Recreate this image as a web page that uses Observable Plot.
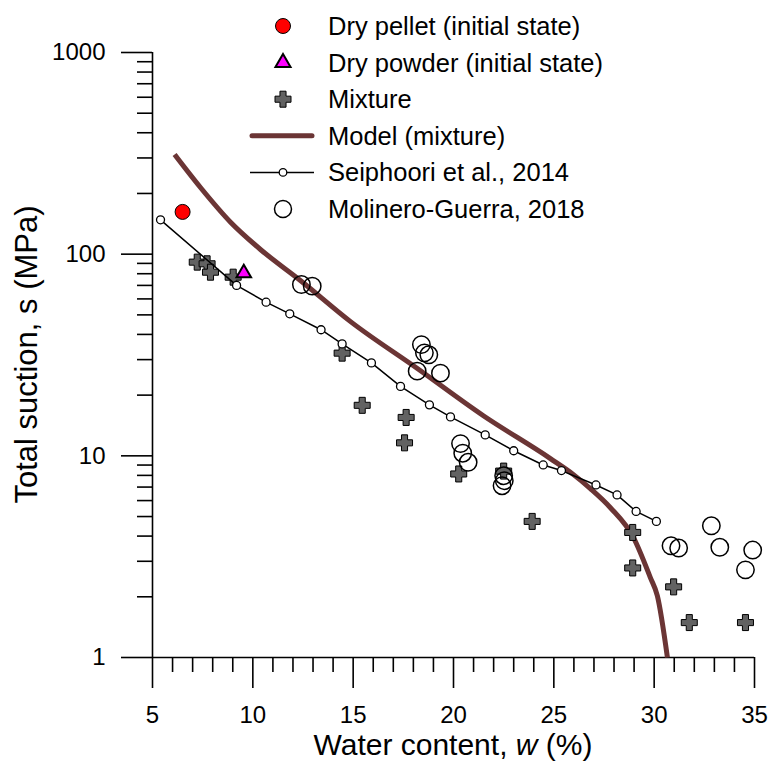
<!DOCTYPE html>
<html>
<head>
<meta charset="utf-8">
<script src="https://cdn.jsdelivr.net/npm/d3@7"></script>
<script src="https://cdn.jsdelivr.net/npm/@observablehq/plot@0.6"></script>
<style>
  body { margin: 0; background: #fff; }
  #chart svg { display: block; }
</style>
</head>
<body>
<div id="chart"></div>
<script>
// ---- Data ----
const pelletW = [6.5];
const pelletS = [162];

const powderW = [9.55];
const powderS = [80.5];

const mixtureW = [7.23, 7.72, 7.89, 9.02, 14.45, 15.45, 17.64, 17.56, 20.26, 22.5, 23.92, 28.93, 28.93, 30.97, 31.75, 34.55];
const mixtureS = [91.3, 89.6, 81.4, 76.9, 32.3, 17.8, 15.5, 11.6, 8.13, 8.4, 4.73, 4.17, 2.78, 2.24, 1.49, 1.49];

const modelW = [6.10, 7.39, 8.89, 10.38, 12.37, 14.87, 18.20, 21.49, 24.83, 25.98, 26.82, 27.82, 28.97, 29.81, 30.16, 30.66];
const modelS = [312, 214, 144, 105.5, 74.1, 46.3, 27.1, 15.8, 9.69, 8.07, 6.88, 5.53, 3.93, 2.49, 2.02, 1.0];

const seiphW = [5.4, 9.19, 10.66, 11.84, 13.4, 14.45, 15.91, 17.36, 18.8, 19.85, 21.58, 23.0, 24.47, 25.38, 27.1, 28.15, 29.1, 30.11];
const seiphS = [148, 70, 57.8, 50.6, 42.2, 35.9, 28.9, 22.1, 17.9, 15.6, 12.7, 10.6, 9.01, 8.45, 7.17, 6.4, 5.3, 4.73];

const molW = [12.42, 12.96, 18.4, 18.55, 18.77, 18.19, 19.35, 20.35, 20.46, 20.73, 22.5, 22.42, 22.53, 32.85, 30.84, 31.22, 33.27, 34.91, 34.55];
const molS = [70.7, 69.4, 35.6, 32.4, 31.7, 26.3, 25.7, 11.5, 10.3, 9.29, 7.97, 7.11, 7.53, 4.5, 3.58, 3.49, 3.52, 3.41, 2.72];

const xMajorTicks = [5, 10, 15, 20, 25, 30, 35];
const xMinorTicks = [6, 7, 8, 9, 11, 12, 13, 14, 16, 17, 18, 19, 21, 22, 23, 24, 26, 27, 28, 29, 31, 32, 33, 34];
const yMajorTicks = [1, 10, 100, 1000];
const yMinorTicks = [2, 3, 4, 5, 6, 7, 8, 9, 20, 30, 40, 50, 60, 70, 80, 90, 200, 300, 400, 500, 600, 700, 800, 900];

const legendLabels = [
  "Dry pellet (initial state)",
  "Dry powder (initial state)",
  "Mixture",
  "Model (mixture)",
  "Seiphoori et al., 2014",
  "Molinero-Guerra, 2018"
];
const legendKinds = ["pellet", "powder", "mixture", "model", "seiph", "mol"];

const xTitle = ["Water content, ", "w", " (%)"];
const yTitle = "Total suction, s (MPa)";

// ---- Tables ----
const zip = (ws, ss) => ws.map((w, i) => ({w, s: ss[i]}));
const pellet = zip(pelletW, pelletS);
const powder = zip(powderW, powderS);
const mixture = zip(mixtureW, mixtureS);
const model = zip(modelW, modelS);
const seiph = zip(seiphW, seiphS);
const mol = zip(molW, molS);

// ---- Styles ----
const FONT = "'Liberation Sans', Arial, Helvetica, sans-serif";
const MODEL_COLOR = "#6b3535";
const MIX_FILL = "#626262";

const plusSymbol = {
  draw(ctx, size) {
    const a = Math.sqrt(size / Math.PI);
    const b = a * 0.38;
    ctx.moveTo(-b, -a); ctx.lineTo(b, -a); ctx.lineTo(b, -b); ctx.lineTo(a, -b);
    ctx.lineTo(a, b); ctx.lineTo(b, b); ctx.lineTo(b, a); ctx.lineTo(-b, a);
    ctx.lineTo(-b, b); ctx.lineTo(-a, b); ctx.lineTo(-a, -b); ctx.lineTo(-b, -b);
    ctx.closePath();
  }
};

const chart = Plot.plot({
  width: 769,
  height: 762,
  marginLeft: 152,
  marginRight: 15,
  marginTop: 52,
  marginBottom: 105,
  style: {fontFamily: FONT, fontSize: "24px", background: "white", color: "black", overflow: "visible"},
  x: {domain: [5, 35], label: null},
  y: {type: "log", domain: [1, 1000], label: null},
  marks: [
    Plot.axisY({ticks: yMajorTicks, tickSize: 31, tickPadding: 16, tickFormat: d => String(d), label: null, strokeWidth: 1.6}),
    Plot.axisY({ticks: yMinorTicks, tickSize: 15, tickFormat: () => "", label: null, strokeWidth: 1.6}),
    Plot.axisX({ticks: xMajorTicks, tickSize: 31, tickPadding: 17, tickFormat: d => String(d), label: null, strokeWidth: 1.6}),
    Plot.axisX({ticks: xMinorTicks, tickSize: 15, tickFormat: () => "", label: null, strokeWidth: 1.6}),
    Plot.ruleX([5], {stroke: "black", strokeWidth: 1.6}),
    Plot.ruleY([1], {stroke: "black", strokeWidth: 1.6}),
    Plot.line(model, {x: "w", y: "s", stroke: MODEL_COLOR, strokeWidth: 5, curve: "monotone-x", strokeLinecap: "butt"}),
    Plot.dot(mixture, {x: "w", y: "s", symbol: plusSymbol, r: 8, fill: MIX_FILL, stroke: "black", strokeWidth: 1}),
    Plot.line(seiph, {x: "w", y: "s", stroke: "black", strokeWidth: 1.5}),
    Plot.dot(seiph, {x: "w", y: "s", r: 4, fill: "white", stroke: "black", strokeWidth: 1.3}),
    Plot.dot(mol, {x: "w", y: "s", r: 8.7, fill: "none", stroke: "black", strokeWidth: 1.5}),
    Plot.dot(pellet, {x: "w", y: "s", r: 7.5, fill: "#ff0000", stroke: "black", strokeWidth: 1}),
    Plot.dot(powder, {x: "w", y: "s", symbol: "triangle", r: 5.4, fill: "#ff00ff", stroke: "black", strokeWidth: 2})
  ]
});

document.getElementById("chart").appendChild(chart);

// ---- Axis titles ----
const svg = d3.select(chart);
const xr = chart.scale("x").range;
const yr = chart.scale("y").range;
const xt = svg.append("text")
  .attr("x", (xr[0] + xr[1]) / 2)
  .attr("y", 755)
  .attr("text-anchor", "middle")
  .attr("font-size", 30)
  .attr("font-family", FONT)
  .attr("fill", "black");
xt.append("tspan").text(xTitle[0]);
xt.append("tspan").attr("font-style", "italic").text(xTitle[1]);
xt.append("tspan").text(xTitle[2]);

svg.append("text")
  .attr("transform", `translate(37,${(yr[0] + yr[1]) / 2}) rotate(-90)`)
  .attr("text-anchor", "middle")
  .attr("font-size", 31)
  .attr("font-family", FONT)
  .attr("fill", "black")
  .text(yTitle);

// ---- Legend ----
const lg = svg.append("g").attr("text-anchor", "start");
const LX = 283, TX = 328, LY0 = 26, LDY = 36.6;
legendKinds.forEach((k, i) => {
  const y = LY0 + i * LDY;
  const g = lg.append("g");
  if (k === "pellet") {
    g.append("circle").attr("cx", LX).attr("cy", y).attr("r", 7.5).attr("fill", "#ff0000").attr("stroke", "black").attr("stroke-width", 1);
  } else if (k === "powder") {
    g.append("path").attr("transform", `translate(${LX},${y})`)
      .attr("d", d3.symbol(d3.symbolTriangle, Math.PI * 5.6 * 5.6)())
      .attr("fill", "#ff00ff").attr("stroke", "black").attr("stroke-width", 2);
  } else if (k === "mixture") {
    g.append("path").attr("transform", `translate(${LX},${y})`)
      .attr("d", d3.symbol(plusSymbol, Math.PI * 8 * 8)())
      .attr("fill", MIX_FILL).attr("stroke", "black").attr("stroke-width", 1);
  } else if (k === "model") {
    g.append("line").attr("x1", 252).attr("x2", 312).attr("y1", y).attr("y2", y)
      .attr("stroke", MODEL_COLOR).attr("stroke-width", 5).attr("stroke-linecap", "round");
  } else if (k === "seiph") {
    g.append("line").attr("x1", 250).attr("x2", 314).attr("y1", y).attr("y2", y)
      .attr("stroke", "black").attr("stroke-width", 1.5);
    g.append("circle").attr("cx", LX).attr("cy", y).attr("r", 3.8).attr("fill", "white").attr("stroke", "black").attr("stroke-width", 1.3);
  } else if (k === "mol") {
    g.append("circle").attr("cx", LX).attr("cy", y).attr("r", 8.5).attr("fill", "none").attr("stroke", "black").attr("stroke-width", 1.5);
  }
  g.append("text").attr("x", TX).attr("y", y).attr("dy", "0.35em")
    .attr("text-anchor", "start")
    .attr("font-size", 25.5).attr("font-family", FONT).attr("fill", "black")
    .text(legendLabels[i]);
});
</script>
</body>
</html>
